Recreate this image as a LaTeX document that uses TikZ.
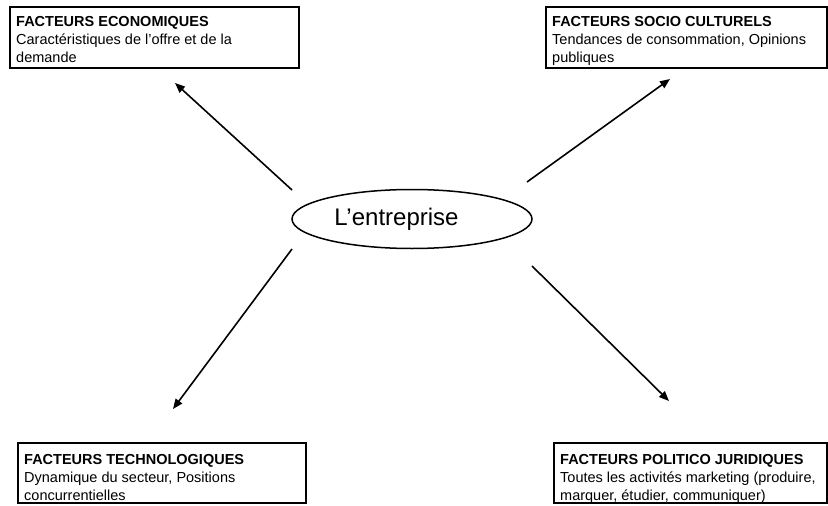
\documentclass[tikz,border=0pt]{standalone}
\usepackage{fontspec}
\setmainfont{Liberation Sans}
\usetikzlibrary{shapes.geometric, arrows.meta}

\begin{document}
\begin{tikzpicture}[x=1pt, y=-1pt,
    cadre/.style={draw, line width=1.9pt, minimum height=61pt, inner sep=0pt, anchor=north west},
    texte/.style={anchor=north west, inner sep=0pt, align=left, font=\fontsize{14.5}{18}\selectfont},
    fleche/.style={line width=1.6pt, -{Triangle[length=10pt, width=8pt]}}]
            % Same Bounding Box
            \useasboundingbox (0,0) rectangle (828,506);

            % Centre
            \node[ellipse, draw, line width=1.5pt, minimum width=240pt, minimum height=59pt,
                  font=\fontsize{24}{26}\selectfont] (ent) at (412,219) {L’entreprise\hspace*{31pt}};

            % Cadres
            \node[cadre, minimum width=289pt] (eco) at (9,6) {};
            \node[cadre, minimum width=281pt] (socio) at (545,6) {};
            \node[cadre, minimum width=288pt, minimum height=60pt] (techno) at (17,442) {};
            \node[cadre, minimum width=273pt, minimum height=60pt] (politico) at (553,442) {};

            \node[texte] (ecoT) at ([shift={(7,10.5)}]eco.north west)
                {\textbf{FACTEURS ECONOMIQUES}\\Caractéristiques de l'offre et de la\\demande};
            \node[texte] (socioT) at ([shift={(7,10.5)}]socio.north west)
                {\textbf{FACTEURS SOCIO CULTURELS}\\Tendances de consommation, Opinions\\publiques};
            \node[texte] (technoT) at ([shift={(7,12.5)}]techno.north west)
                {\textbf{FACTEURS TECHNOLOGIQUES}\\Dynamique du secteur, Positions\\concurrentielles};
            \node[texte] (politicoT) at ([shift={(7,12.5)}]politico.north west)
                {\textbf{FACTEURS POLITICO JURIDIQUES}\\Toutes les activités marketing (produire,\\marquer, étudier, communiquer)};

            % Extremites des fleches
            \coordinate (ecoA) at (292,190);
            \coordinate (ecoB) at (175,83);
            \coordinate (socioA) at (527,182);
            \coordinate (socioB) at (670,79);
            \coordinate (technoA) at (292,249);
            \coordinate (technoB) at (173,409);
            \coordinate (politicoA) at (532,266);
            \coordinate (politicoB) at (669,401);

            \draw[fleche] (ecoA) -- (ecoB);
            \draw[fleche] (socioA) -- (socioB);
            \draw[fleche] (technoA) -- (technoB);
            \draw[fleche] (politicoA) -- (politicoB);
        \end{tikzpicture}
\end{document}
